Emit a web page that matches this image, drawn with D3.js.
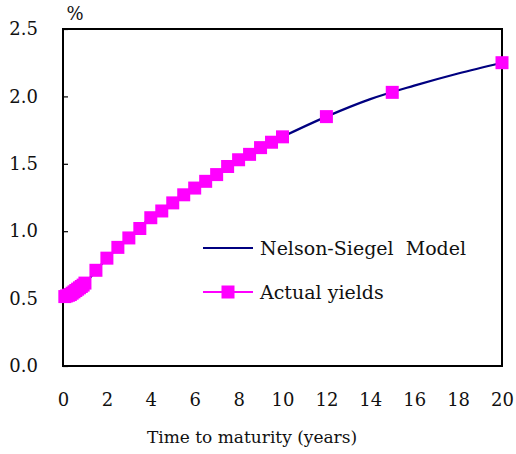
<!DOCTYPE html>
<html>
<head>
<meta charset="utf-8">
<script src="https://cdn.jsdelivr.net/npm/d3@7"></script>
<style>
  html, body { margin: 0; padding: 0; background: #fff; }
  svg { display: block; }
</style>
</head>
<body>
<svg id="chart" width="516" height="454"></svg>
<script>
// Data
const maturities = [1/12, 2/12, 3/12, 4/12, 5/12, 6/12, 7/12, 8/12, 9/12, 10/12, 11/12, 1,
  1.5, 2, 2.5, 3, 3.5, 4, 4.5, 5, 5.5, 6, 6.5, 7, 7.5, 8, 8.5, 9, 9.5, 10, 12, 15, 20];
const actualYields = [0.515, 0.52, 0.525, 0.53, 0.54, 0.55, 0.56, 0.57, 0.58, 0.59, 0.60, 0.615,
  0.71, 0.80, 0.88, 0.95, 1.02, 1.10, 1.15, 1.21, 1.27, 1.32, 1.37, 1.42, 1.48, 1.53, 1.57, 1.62, 1.66, 1.70, 1.85, 2.03, 2.25];
const modelMaturities = [0, 0.5, 1, 2, 3, 4, 5, 6, 7, 8, 9, 10, 12, 14, 16, 18, 20];
const modelYields = [0.51, 0.55, 0.615, 0.80, 0.95, 1.10, 1.21, 1.32, 1.42, 1.53, 1.62, 1.70, 1.85, 1.98, 2.08, 2.17, 2.25];
const xTicks = [0, 2, 4, 6, 8, 10, 12, 14, 16, 18, 20];
const yTicks = [0.0, 0.5, 1.0, 1.5, 2.0, 2.5];
const seriesNames = ["Nelson-Siegel  Model", "Actual yields"];
const xTitle = "Time to maturity (years)";
const yUnit = "%";

const FONT = "'DejaVu Serif', 'Liberation Serif', serif";
const svg = d3.select("#chart");
const plot = { left: 63, right: 502, top: 29, bottom: 366 };

const x = d3.scaleLinear().domain([0, 20]).range([plot.left, plot.right]);
const y = d3.scaleLinear().domain([0, 2.5]).range([plot.bottom, plot.top]);

// Frame
svg.append("rect")
  .attr("x", plot.left).attr("y", plot.top)
  .attr("width", plot.right - plot.left).attr("height", plot.bottom - plot.top)
  .attr("fill", "none").attr("stroke", "#000").attr("stroke-width", 2);

// Y axis (ticks inward)
const yAxis = d3.axisLeft(y).tickValues(yTicks).tickFormat(d3.format(".1f")).tickSizeInner(-5).tickSizeOuter(0).tickPadding(25);
const gy = svg.append("g").attr("transform", `translate(${plot.left},0)`).call(yAxis);
gy.attr("font-family", null).attr("font-size", null);
gy.select(".domain").remove();
gy.selectAll(".tick line").attr("stroke", "#000").attr("stroke-width", 1.2);
gy.selectAll(".tick text").style("font-family", FONT).style("font-size", "18px").attr("fill", "#111");

// X axis (labels only)
const xAxis = d3.axisBottom(x).tickValues(xTicks).tickFormat(d3.format("d")).tickSize(0).tickPadding(27);
const gx = svg.append("g").attr("transform", `translate(0,${plot.bottom})`).call(xAxis);
gx.attr("font-family", null).attr("font-size", null);
gx.select(".domain").remove();
gx.selectAll(".tick text").style("font-family", FONT).style("font-size", "18px").attr("fill", "#111");

// Titles
svg.append("text").attr("x", 252).attr("y", 443)
  .attr("text-anchor", "middle").style("font-family", FONT).style("font-size", "17px").attr("fill", "#111").text(xTitle);
svg.append("text").attr("x", 75).attr("y", 20)
  .attr("text-anchor", "middle").style("font-family", FONT).style("font-size", "18px").attr("fill", "#111").text(yUnit);

// Model line
const line = d3.line().x((d, i) => x(modelMaturities[i])).y(d => y(d)).curve(d3.curveMonotoneX);
svg.append("path").datum(modelYields)
  .attr("d", line).attr("fill", "none").attr("stroke", "#000080").attr("stroke-width", 2.2);

// Actual yields (squares)
const sz = 13;
svg.append("g").selectAll("rect").data(actualYields).join("rect")
  .attr("x", (d, i) => x(maturities[i]) - sz / 2)
  .attr("y", d => y(d) - sz / 2)
  .attr("width", sz).attr("height", sz)
  .attr("fill", "#ff00ff");

// Legend
const lg = svg.append("g");
lg.append("line").attr("x1", 203).attr("x2", 253).attr("y1", 248).attr("y2", 248)
  .attr("stroke", "#000080").attr("stroke-width", 2.2);
lg.append("text").attr("x", 260).attr("y", 255).style("font-family", FONT).style("font-size", "19px")
  .style("white-space", "pre").attr("fill", "#111").text(seriesNames[0]);
lg.append("line").attr("x1", 203).attr("x2", 253).attr("y1", 292).attr("y2", 292)
  .attr("stroke", "#ff00ff").attr("stroke-width", 2.2);
lg.append("rect").attr("x", 228 - sz / 2).attr("y", 292 - sz / 2).attr("width", sz).attr("height", sz)
  .attr("fill", "#ff00ff");
lg.append("text").attr("x", 260).attr("y", 299).style("font-family", FONT).style("font-size", "19px")
  .attr("fill", "#111").text(seriesNames[1]);
</script>
</body>
</html>
